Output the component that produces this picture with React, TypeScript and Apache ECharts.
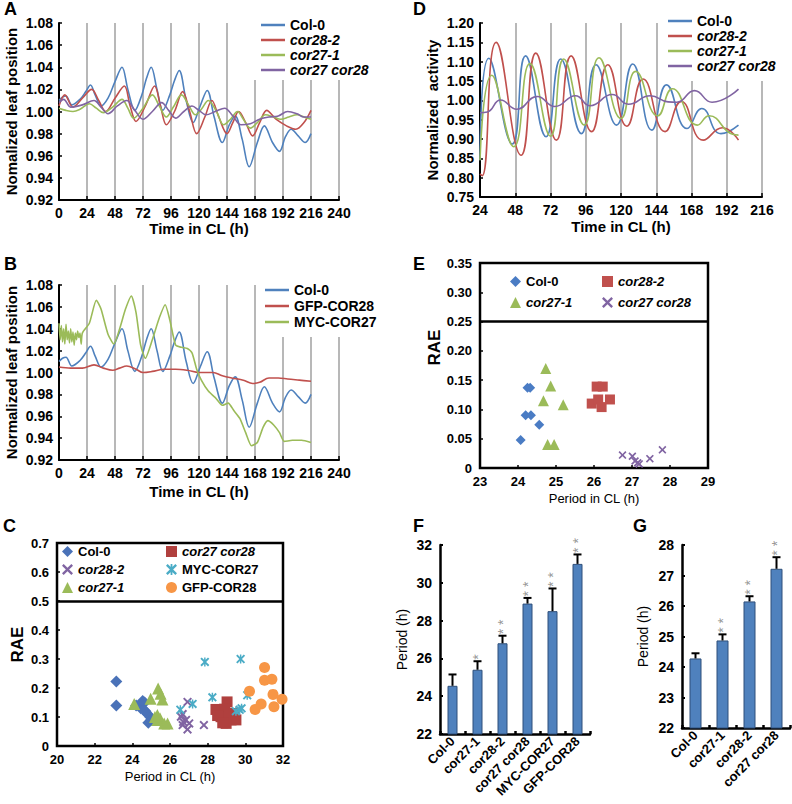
import React, { useEffect, useRef } from 'react';
import * as echarts from 'echarts';

const FONT = '"Liberation Sans", Arial, Helvetica, sans-serif';
const BLUE = '#4F81BD';
const RED = '#C0504D';
const GREEN = '#9BBB59';
const PURPLE = '#8064A2';
const TEAL = '#4BACC6';
const ORANGE = '#F79646';
const DARKRED = '#B0403E';

// ---------- Panel A / B : leaf movement (time h, normalized position) ----------
const col0Leaf = [[0,1.010],[3,1.013],[6,1.014],[11,1.006],[18,1.011],[23,1.018],[27,1.024],[31,1.015],[36,1.005],[42,1.012],[48,1.027],[54,1.040],[59,1.020],[65,1.001],[71,1.015],[75,1.030],[79,1.040],[84,1.020],[89,1.001],[95,1.015],[99,1.028],[103,1.037],[109,1.010],[115,0.990],[121,1.005],[127,1.019],[133,0.995],[140,0.972],[146,0.988],[151,0.996],[157,0.975],[163,0.950],[170,0.972],[176,0.987],[183,0.972],[189,0.964],[194,0.977],[199,0.984],[205,0.978],[211,0.972],[216,0.980]];
const cor28Leaf = [[0,1.005],[5,1.015],[12,1.004],[20,1.012],[28,1.020],[34,1.010],[40,1.000],[48,1.012],[56,1.023],[61,1.005],[66,0.991],[74,1.005],[82,1.023],[87,1.005],[92,0.988],[99,1.000],[106,1.018],[112,1.000],[118,0.980],[125,0.995],[131,1.010],[137,0.995],[144,0.980],[149,0.990],[154,1.000],[160,0.990],[166,0.978],[172,0.990],[178,1.001],[186,0.993],[195,0.987],[203,0.984],[210,0.990],[216,1.001]];
const cor27Leaf = [[0,1.003],[6,1.001],[12,1.000],[18,1.002],[26,1.007],[32,1.003],[38,0.999],[46,1.004],[54,1.011],[59,1.003],[64,0.994],[72,1.003],[80,1.015],[86,1.005],[92,0.995],[98,1.004],[105,1.015],[111,1.006],[117,0.997],[122,1.002],[128,1.010],[135,1.000],[141,0.988],[147,0.993],[153,1.000],[158,0.993],[164,0.985],[170,0.990],[177,0.997],[184,0.995],[190,0.993],[197,0.995],[204,0.997],[210,0.995],[216,0.993]];
const doubleLeaf = [[0,1.008],[4,1.011],[10,1.004],[20,1.006],[30,1.010],[36,1.004],[42,0.998],[50,1.005],[58,1.010],[65,1.001],[72,0.993],[80,1.000],[88,1.008],[94,1.001],[100,0.994],[107,1.000],[114,1.005],[120,1.001],[126,0.997],[134,1.000],[142,1.003],[149,0.996],[156,0.988],[164,0.989],[172,0.993],[180,0.995],[188,0.996],[196,1.000],[204,0.998],[210,0.995],[216,0.995]];
const gfpCor28Leaf = [[0,1.005],[10,1.004],[20,1.004],[30,1.007],[38,1.004],[46,1.002],[52,1.004],[58,1.006],[66,1.003],[72,1.000],[80,1.001],[90,1.003],[100,1.003],[110,1.002],[120,1.000],[132,1.000],[140,0.997],[148,0.995],[158,0.993],[166,0.990],[172,0.991],[180,0.995],[188,0.995],[196,0.994],[206,0.993],[216,0.992]];
const mycCor27Leaf = [[0,1.045],[1,1.030],[2,1.043],[3,1.028],[4,1.040],[5,1.026],[6,1.044],[7,1.030],[8,1.038],[9,1.027],[10,1.040],[11,1.028],[12,1.037],[13,1.025],[14,1.036],[15,1.030],[16,1.038],[17,1.032],[18,1.036],[19,1.026],[20,1.036],[26,1.045],[32,1.066],[36,1.058],[42,1.035],[47,1.026],[52,1.040],[57,1.058],[62,1.070],[66,1.055],[70,1.025],[74,1.013],[80,1.030],[86,1.050],[91,1.062],[95,1.048],[100,1.025],[105,1.023],[110,1.022],[114,1.018],[118,1.003],[122,0.993],[128,0.983],[134,0.977],[140,0.970],[145,0.972],[150,0.965],[155,0.958],[160,0.945],[165,0.933],[170,0.936],[175,0.950],[179,0.956],[184,0.952],[189,0.945],[193,0.937],[200,0.938],[208,0.938],[216,0.936]];

// ---------- Panel D : luciferase activity ----------
const dCol0 = [[24,0.845],[30,1.109],[46,0.887],[55,1.115],[69,0.906],[79,1.107],[93,0.914],[103,1.092],[117,0.936],[128,1.094],[141,0.923],[151,1.040],[165,0.927],[175,0.979],[188,0.914],[200,0.936]];
const dCor28 = [[24,0.810],[25.5,0.805],[35,1.150],[52,0.858],[62,1.122],[76,0.897],[86,1.115],[100,0.919],[111,1.092],[124,0.933],[135,1.055],[150,0.919],[161,0.997],[176,0.897],[189,0.929],[200,0.897]];
const dCor27 = [[24,0.845],[32,1.065],[47,0.880],[58,1.095],[72,0.907],[81,1.107],[95,0.936],[105,1.110],[120,0.953],[130,1.075],[145,0.960],[155,1.030],[172,0.936],[180,0.960],[196,0.912],[200,0.910]];
const dDouble = [[24,0.968],[29,0.970],[38,1.001],[49,0.977],[63,1.010],[75,0.984],[89,1.012],[99,0.986],[114,1.015],[125,0.990],[140,1.012],[152,0.996],[158,0.995],[170,1.025],[182,0.995],[200,1.029]];

// ---------- Panel C : RAE vs period (leaf movement) ----------
const cCol0 = [[23.15,0.222],[23.15,0.14],[24.2,0.14],[24.45,0.13],[24.55,0.155],[24.65,0.15],[24.7,0.12],[24.8,0.11],[24.95,0.1],[24.85,0.08],[24.6,0.125],[25.0,0.09]];
const cCor28 = [[26.67,0.072],[26.93,0.152],[26.58,0.101],[26.85,0.09],[27.02,0.078],[26.93,0.057],[26.7,0.083],[27.8,0.072],[26.67,0.11]];
const cCor27 = [[24.1,0.145],[24.97,0.163],[25.37,0.198],[25.5,0.18],[25.6,0.16],[25.33,0.107],[25.47,0.096],[25.69,0.078],[25.87,0.078],[25.33,0.09],[25.2,0.1]];
const cDouble = [[28.44,0.126],[29.03,0.152],[28.9,0.127],[28.71,0.101],[29.24,0.09],[29.5,0.09],[28.98,0.078],[29.4,0.112],[29.15,0.112],[28.53,0.105],[28.8,0.08]];
const cMyc = [[26.55,0.125],[27.2,0.145],[27.85,0.29],[28.25,0.168],[29.5,0.12],[29.7,0.125],[29.8,0.13],[29.75,0.3],[30.1,0.175]];
const cGfp = [[31.02,0.271],[31.02,0.227],[31.41,0.23],[31.47,0.178],[31.95,0.161],[31.52,0.135],[30.84,0.145],[30.52,0.126],[30.22,0.189]];

// ---------- Panel E : RAE vs period (luciferase) ----------
const eCol0 = [[24.25,0.137],[24.32,0.137],[24.2,0.09],[24.34,0.09],[24.56,0.074],[24.07,0.048]];
const eCor28 = [[26.07,0.139],[26.23,0.139],[25.94,0.11],[26.11,0.117],[26.2,0.104],[26.42,0.117]];
const eCor27 = [[24.73,0.17],[24.86,0.14],[24.67,0.115],[25.19,0.108],[24.78,0.04],[24.95,0.04]];
const eDouble = [[26.75,0.022],[27.01,0.02],[27.08,0.012],[27.19,0.007],[27.15,0.009],[27.47,0.016],[27.8,0.031]];

// ---------- Panel F / G : mean period ----------
const fCats = ['Col-0', 'cor27-1', 'cor28-2', 'cor27 cor28', 'MYC-COR27', 'GFP-COR28'];
const fMeans = [24.55, 25.4, 26.8, 28.9, 28.5, 31.0];
const fErrs = [0.6, 0.45, 0.4, 0.3, 1.2, 0.5];
const fSig = ['', '*', '* *', '* *', '* *', '* *'];
const gCats = ['Col-0', 'cor27-1', 'cor28-2', 'cor27 cor28'];
const gMeans = [24.28, 24.87, 26.15, 27.22];
const gErrs = [0.17, 0.2, 0.17, 0.38];
const gSig = ['', '* *', '* *', '* *'];

const ITALIC = new Set(['cor28-2', 'cor27-1', 'cor27 cor28']);
const legendFmt = (name: string) => (ITALIC.has(name) ? `{i|${name}}` : `{n|${name}}`);
const legendRich = (size: number) => ({
  i: { fontStyle: 'italic', fontWeight: 'bold', fontSize: size, fontFamily: FONT, color: '#000' },
  n: { fontWeight: 'bold', fontSize: size, fontFamily: FONT, color: '#000' },
});

const X_PATH = 'path://M0,1.5L1.5,0L5,3.5L8.5,0L10,1.5L6.5,5L10,8.5L8.5,10L5,6.5L1.5,10L0,8.5L3.5,5Z';
const STAR_PATH = 'path://M0,1.5L1.5,0L5,3.5L8.5,0L10,1.5L6.5,5L10,8.5L8.5,10L5,6.5L1.5,10L0,8.5L3.5,5Z M4.2,0L5.8,0L5.8,10L4.2,10Z';

const letter = (t: string, left: number, top: number) => ({
  text: t, left, top, padding: 0,
  textStyle: { fontSize: 18, fontWeight: 'bold', fontFamily: FONT, color: '#000' },
});

const boldTick = (size: number) => ({ color: '#000', fontWeight: 'bold', fontSize: size, fontFamily: FONT });

function timePanel(p: any) {
  return {
    animation: false,
    title: letter(p.letter, p.letterPos[0], p.letterPos[1]),
    grid: { left: p.grid[0], top: p.grid[1], width: p.grid[2], height: p.grid[3], outerBoundsMode: 'none' },
    legend: {
      orient: 'vertical', left: p.legend[0], top: p.legend[1], padding: p.legendPad, itemGap: p.legendGap,
      icon: 'rect', itemWidth: 24, itemHeight: 2.5, backgroundColor: '#fff',
      data: p.series.map((s: any) => s.name), formatter: legendFmt,
      textStyle: { color: '#000', rich: legendRich(14) },
    },
    xAxis: {
      type: 'value', min: p.xMin, max: p.xMax, interval: 24,
      axisLine: { show: true, onZero: false, lineStyle: { color: '#000', width: 2 } },
      axisTick: { show: true, inside: true, length: 4, lineStyle: { color: '#000', width: 1.5 } },
      axisLabel: { ...boldTick(14), margin: 6 },
      splitLine: { show: true, lineStyle: { color: '#a0a0a0', width: 1.5 } },
      name: 'Time in CL (h)', nameLocation: 'middle', nameGap: p.xNameGap,
      nameTextStyle: boldTick(15),
    },
    yAxis: {
      type: 'value', min: p.yMin, max: p.yMax, interval: p.yInt,
      axisLine: { show: true, lineStyle: { color: '#000', width: 2 } },
      axisTick: { show: true, inside: true, length: 3, lineStyle: { color: '#000', width: 1.5 } },
      axisLabel: { ...boldTick(14), margin: 6, formatter: (v: number) => v.toFixed(2) },
      splitLine: { show: false },
      name: p.yName, nameLocation: 'middle', nameGap: p.yNameGap, nameRotate: 90,
      nameTextStyle: boldTick(15),
    },
    series: p.series.map((s: any) => ({
      type: 'line', name: s.name, data: s.data, symbol: 'none', showSymbol: false,
      smooth: s.smooth ?? 0.35, lineStyle: { color: s.color, width: 1.6 }, itemStyle: { color: s.color },
    })),
  };
}

function scatterPanel(p: any) {
  return {
    animation: false,
    title: letter(p.letter, p.letterPos[0], p.letterPos[1]),
    grid: {
      left: p.grid[0], top: p.grid[1], width: p.grid[2], height: p.grid[3], outerBoundsMode: 'none',
      show: true, borderColor: '#000', borderWidth: 2.5, backgroundColor: 'transparent',
    },
    legend: p.legends.map((l: any) => ({
      orient: 'vertical', left: l.left, top: l.top, padding: 0, itemGap: l.gap,
      itemWidth: 11, itemHeight: 11, data: l.names, formatter: legendFmt,
      textStyle: { color: '#000', rich: legendRich(13) },
    })),
    xAxis: {
      type: 'value', min: p.xMin, max: p.xMax, interval: p.xInt,
      axisLine: { show: false },
      axisTick: { show: true, inside: true, length: 3, lineStyle: { color: '#000', width: 1.5 } },
      axisLabel: { ...boldTick(13), margin: 7 },
      splitLine: { show: false },
      name: 'Period in CL (h)', nameLocation: 'middle', nameGap: p.xNameGap,
      nameTextStyle: { color: '#000', fontSize: 13, fontFamily: FONT },
    },
    yAxis: {
      type: 'value', min: 0, max: p.yMax, interval: p.yInt,
      axisLine: { show: false },
      axisTick: { show: true, inside: true, length: 3, lineStyle: { color: '#000', width: 1.5 } },
      axisLabel: { ...boldTick(13), margin: 8, formatter: (v: number) => (v === 0 ? '0' : v.toFixed(p.dec)) },
      splitLine: { show: false },
      name: 'RAE', nameLocation: 'middle', nameGap: p.yNameGap, nameRotate: 90,
      nameTextStyle: { ...boldTick(17), padding: p.yNamePad },
    },
    series: p.series.map((s: any, i: number) => ({
      type: 'scatter', name: s.name, data: s.data, symbol: s.symbol, symbolSize: s.size,
      itemStyle: { color: s.color, opacity: 1 },
      ...(i === 0 ? {
        markLine: {
          silent: true, symbol: 'none', label: { show: false },
          lineStyle: { color: '#000', width: 2.5, type: 'solid' }, data: [{ yAxis: p.boxLine }],
        },
      } : {}),
    })),
  };
}

function barPanel(p: any) {
  const errData = p.means.map((m: number, i: number) => [i, m, m + p.errs[i]]);
  const starData = p.means.map((m: number, i: number) => [i, m + p.errs[i]]);
  return {
    animation: false,
    title: letter(p.letter, p.letterPos[0], p.letterPos[1]),
    grid: { left: p.grid[0], top: p.grid[1], width: p.grid[2], height: p.grid[3], outerBoundsMode: 'none' },
    xAxis: {
      type: 'category', data: p.cats,
      axisLine: { show: true, lineStyle: { color: '#000', width: 2.5 } },
      axisTick: { show: true, inside: true, length: 3, alignWithLabel: false, lineStyle: { color: '#000', width: 2.5 } },
      axisLabel: { ...boldTick(13), rotate: 45, interval: 0, margin: 5 },
    },
    yAxis: {
      type: 'value', min: p.yMin, max: p.yMax, interval: p.yInt,
      axisLine: { show: true, lineStyle: { color: '#000', width: 2.5 } },
      axisTick: { show: true, inside: true, length: 3, lineStyle: { color: '#000', width: 2 } },
      axisLabel: { ...boldTick(14), margin: 8 },
      splitLine: { show: false },
      name: 'Period (h)', nameLocation: 'middle', nameGap: p.yNameGap, nameRotate: 90,
      nameTextStyle: { color: '#000', fontSize: 14, fontFamily: FONT },
    },
    series: [
      {
        type: 'bar', data: p.means, barWidth: p.barWidth,
        itemStyle: { color: BLUE, borderColor: '#2F4F7A', borderWidth: 1 },
      },
      {
        type: 'custom', data: errData, z: 5,
        renderItem: (_params: any, api: any) => {
          const i = api.value(0);
          const p0 = api.coord([i, api.value(1)]);
          const p1 = api.coord([i, api.value(2)]);
          return {
            type: 'group',
            children: [
              { type: 'line', shape: { x1: p0[0], y1: p0[1], x2: p1[0], y2: p1[1] }, style: { stroke: '#000', lineWidth: 2 } },
              { type: 'line', shape: { x1: p1[0] - 4, y1: p1[1], x2: p1[0] + 4, y2: p1[1] }, style: { stroke: '#000', lineWidth: 2 } },
            ],
          };
        },
      },
      {
        type: 'scatter', data: starData, symbolSize: 1, itemStyle: { color: 'transparent' },
        label: {
          show: true, position: 'top', distance: 1, rotate: 90, align: 'left', verticalAlign: 'middle',
          formatter: (q: any) => p.sig[q.dataIndex], color: '#7a7a7a', fontSize: 14, fontFamily: FONT,
        },
      },
    ],
  };
}

const OPTIONS = [
  timePanel({
    letter: 'A', letterPos: [4, 0], grid: [59, 23, 280, 177], xMin: 0, xMax: 240, xNameGap: 21,
    yMin: 0.92, yMax: 1.08, yInt: 0.02, yName: 'Nomalized leaf position', yNameGap: 40,
    legend: [250, 15], legendPad: [3, 4, 3, 11], legendGap: 1,
    series: [
      { name: 'Col-0', data: col0Leaf, color: BLUE },
      { name: 'cor28-2', data: cor28Leaf, color: RED },
      { name: 'cor27-1', data: cor27Leaf, color: GREEN },
      { name: 'cor27 cor28', data: doubleLeaf, color: PURPLE },
    ],
  }),
  timePanel({
    letter: 'B', letterPos: [4, 255], grid: [59, 285, 280, 175], xMin: 0, xMax: 240, xNameGap: 24,
    yMin: 0.92, yMax: 1.08, yInt: 0.02, yName: 'Normalized leaf position', yNameGap: 40,
    legend: [260, 280], legendPad: [3, 4, 8, 5], legendGap: 2,
    series: [
      { name: 'Col-0', data: col0Leaf, color: BLUE },
      { name: 'GFP-COR28', data: gfpCor28Leaf, color: RED },
      { name: 'MYC-COR27', data: mycCor27Leaf, color: GREEN, smooth: 0.2 },
    ],
  }),
  timePanel({
    letter: 'D', letterPos: [413, 0], grid: [480, 23, 282, 174], xMin: 24, xMax: 216, xNameGap: 22,
    yMin: 0.75, yMax: 1.2, yInt: 0.05, yName: 'Normalized  activity', yNameGap: 40,
    legend: [662, 11], legendPad: [3, 4, 8, 6], legendGap: 1,
    series: [
      { name: 'Col-0', data: dCol0, color: BLUE, smooth: 0.5 },
      { name: 'cor28-2', data: dCor28, color: RED, smooth: 0.5 },
      { name: 'cor27-1', data: dCor27, color: GREEN, smooth: 0.5 },
      { name: 'cor27 cor28', data: dDouble, color: PURPLE, smooth: 0.5 },
    ],
  }),
  scatterPanel({
    letter: 'C', letterPos: [3, 517], grid: [57, 543, 226, 203], xMin: 20, xMax: 32, xInt: 2, xNameGap: 24,
    yMax: 0.7, yInt: 0.1, dec: 1, yNameGap: 31, yNamePad: 0, boxLine: 0.5,
    legends: [
      { left: 62, top: 545, gap: 5, names: ['Col-0', 'cor28-2', 'cor27-1'] },
      { left: 166, top: 545, gap: 5, names: ['cor27 cor28', 'MYC-COR27', 'GFP-COR28'] },
    ],
    series: [
      { name: 'Col-0', data: cCol0, color: '#4A72B8', symbol: 'diamond', size: 12 },
      { name: 'cor28-2', data: cCor28, color: PURPLE, symbol: X_PATH, size: 9 },
      { name: 'cor27-1', data: cCor27, color: GREEN, symbol: 'triangle', size: 12 },
      { name: 'cor27 cor28', data: cDouble, color: DARKRED, symbol: 'rect', size: 11 },
      { name: 'MYC-COR27', data: cMyc, color: TEAL, symbol: STAR_PATH, size: 9 },
      { name: 'GFP-COR28', data: cGfp, color: ORANGE, symbol: 'circle', size: 11 },
    ],
  }),
  scatterPanel({
    letter: 'E', letterPos: [413, 255], grid: [480, 263, 228, 205], xMin: 23, xMax: 29, xInt: 1, xNameGap: 24,
    yMax: 0.35, yInt: 0.05, dec: 2, yNameGap: 35, yNamePad: [0, 0, 0, 36], boxLine: 0.25,
    legends: [
      { left: 510, top: 275, gap: 8, names: ['Col-0', 'cor27-1'] },
      { left: 602, top: 275, gap: 8, names: ['cor28-2', 'cor27 cor28'] },
    ],
    series: [
      { name: 'Col-0', data: eCol0, color: '#4A7CC4', symbol: 'diamond', size: 10 },
      { name: 'cor28-2', data: eCor28, color: RED, symbol: 'rect', size: 10 },
      { name: 'cor27-1', data: eCor27, color: GREEN, symbol: 'triangle', size: 11 },
      { name: 'cor27 cor28', data: eDouble, color: PURPLE, symbol: X_PATH, size: 8 },
    ],
  }),
  barPanel({
    letter: 'F', letterPos: [413, 517], grid: [440, 545, 150, 189], cats: fCats, means: fMeans, errs: fErrs, sig: fSig,
    yMin: 22, yMax: 32, yInt: 2, yNameGap: 31, barWidth: 10,
  }),
  barPanel({
    letter: 'G', letterPos: [633, 517], grid: [682, 545, 108, 183], cats: gCats, means: gMeans, errs: gErrs, sig: gSig,
    yMin: 22, yMax: 28, yInt: 1, yNameGap: 32, barWidth: 12,
  }),
];

function Panel({ option }: { option: any }) {
  const ref = useRef<HTMLDivElement>(null);
  useEffect(() => {
    if (!ref.current) return;
    const chart = echarts.init(ref.current, null, { renderer: 'svg' });
    chart.setOption(option);
    return () => chart.dispose();
  }, [option]);
  return <div ref={ref} style={{ position: 'absolute', left: 0, top: 0, width: 792, height: 804 }} />;
}

export default function App() {
  return (
    <div style={{ position: 'absolute', left: 0, top: 0, width: 792, height: 804, background: '#fff', overflow: 'hidden' }}>
      {OPTIONS.map((o, i) => (
        <Panel key={i} option={o} />
      ))}
    </div>
  );
}
